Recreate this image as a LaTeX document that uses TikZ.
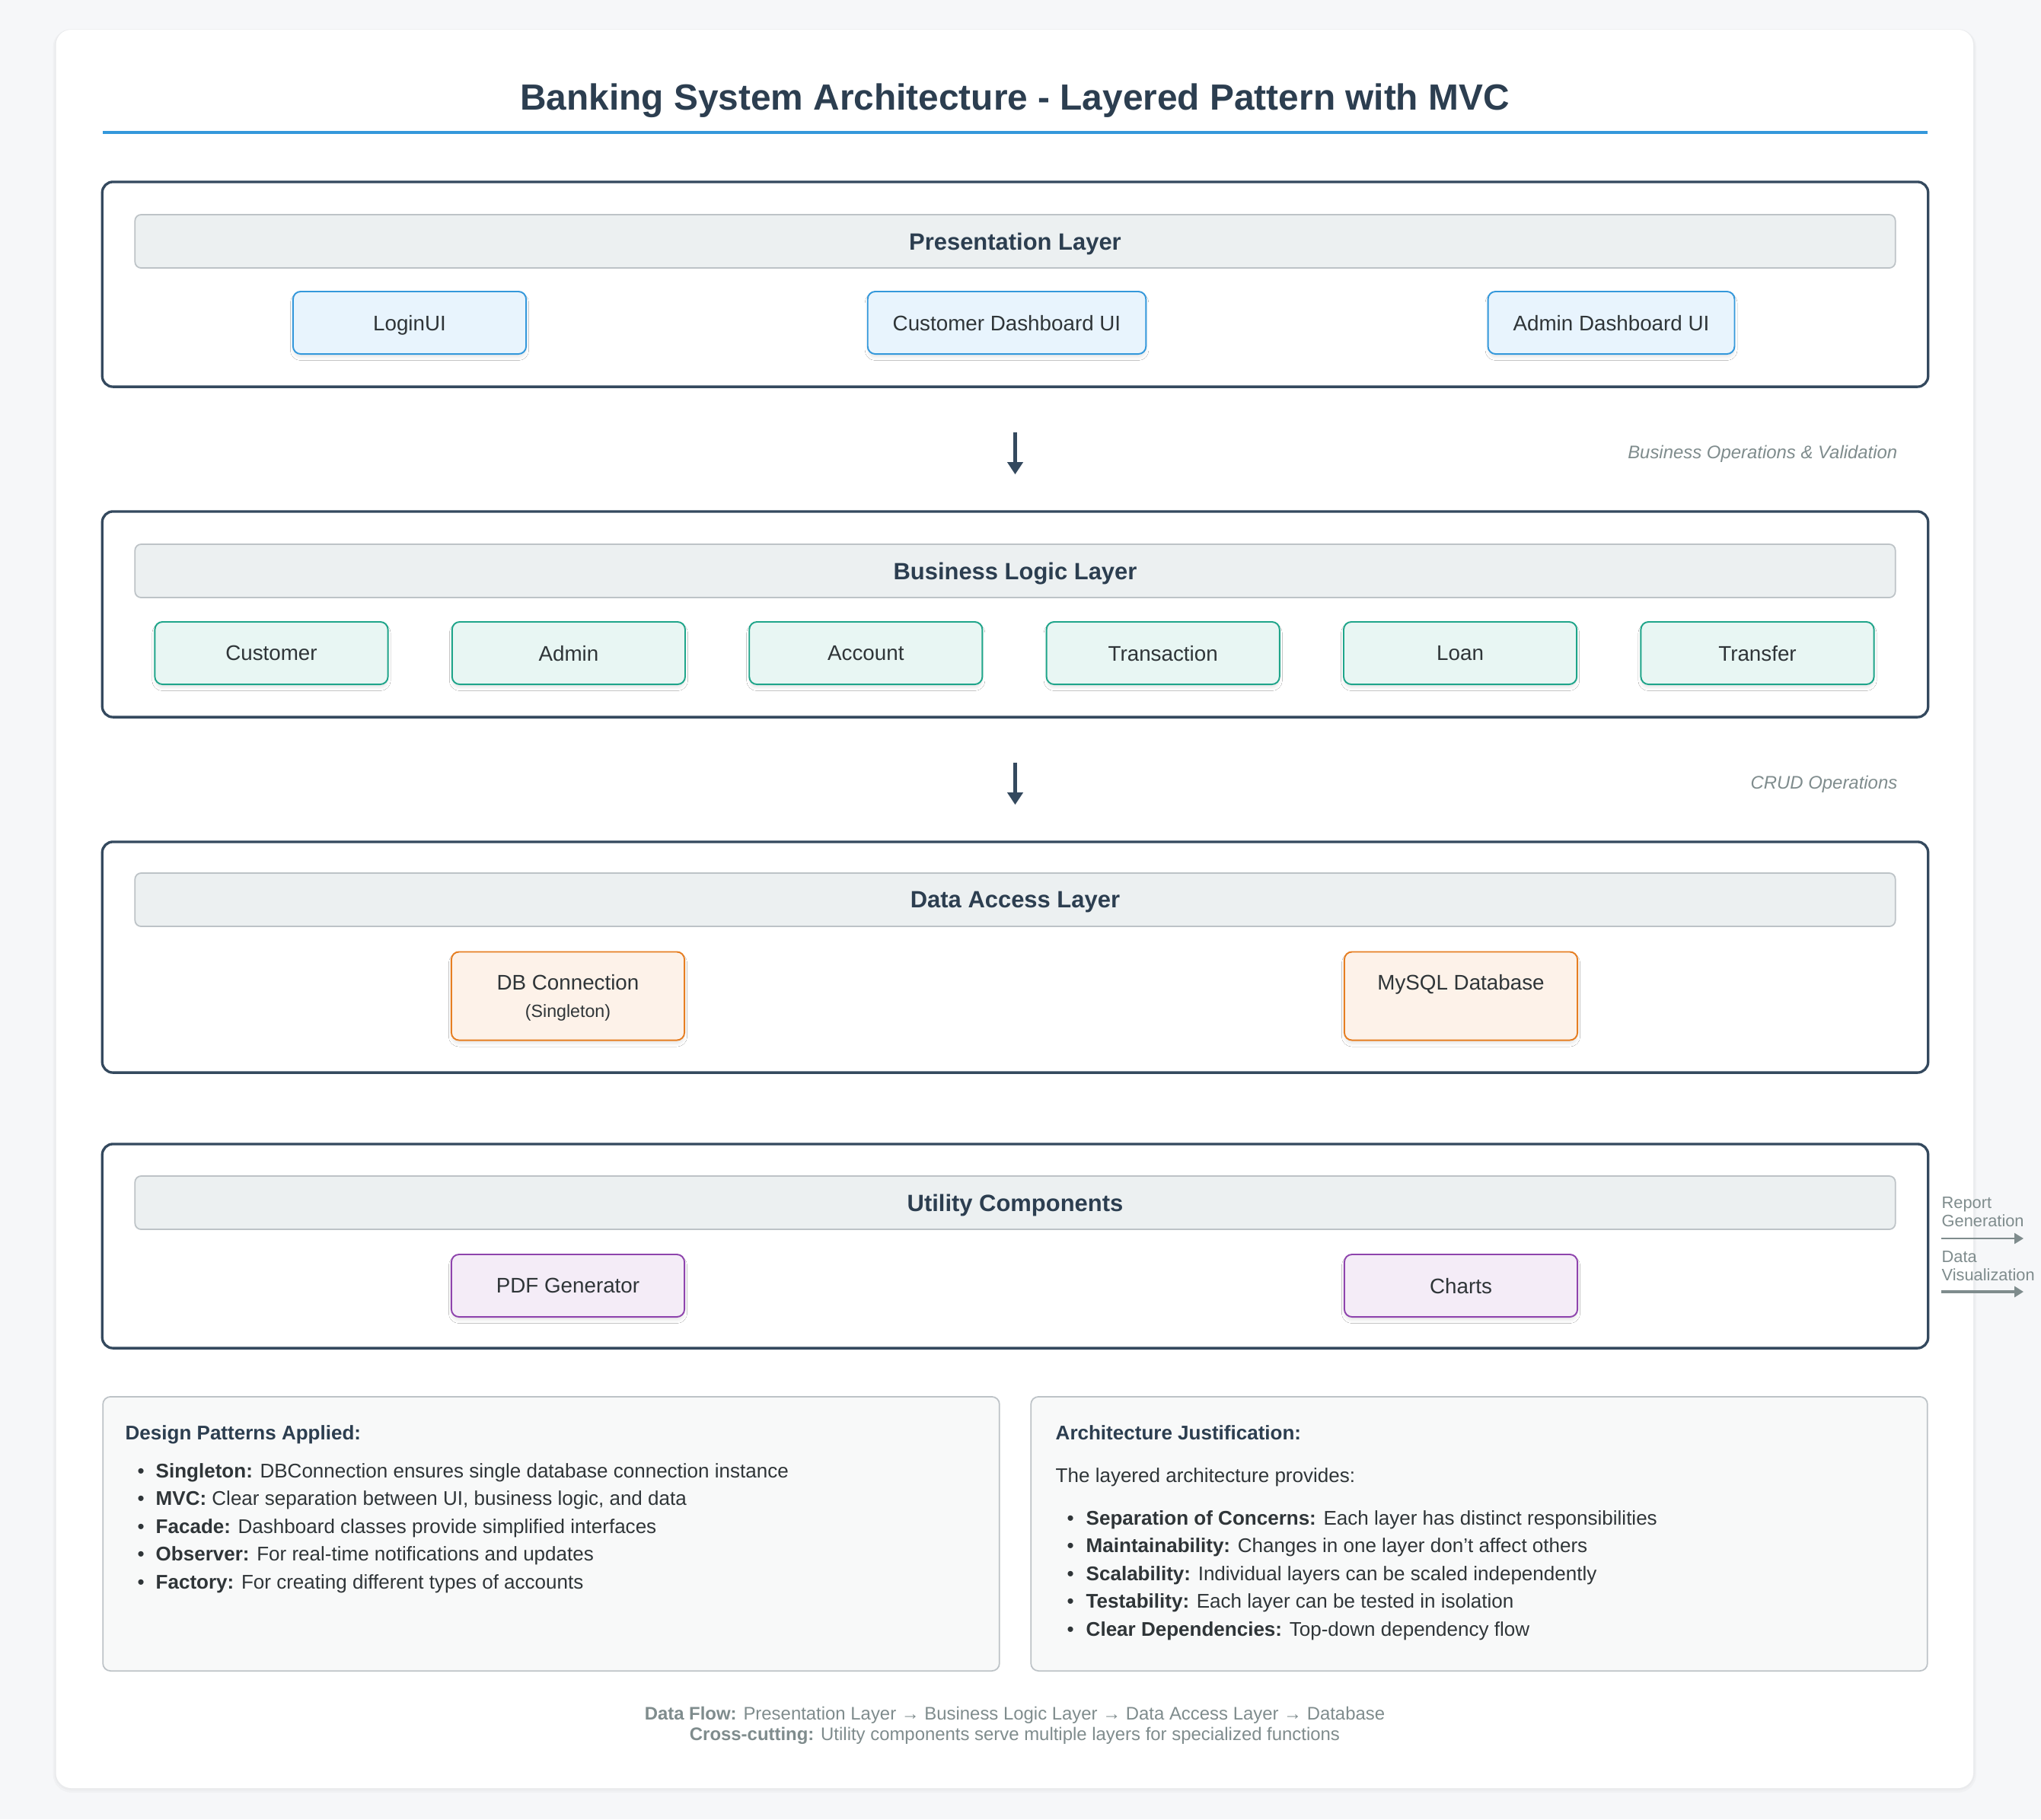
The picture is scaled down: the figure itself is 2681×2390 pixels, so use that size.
\documentclass[tikz,border=0pt]{standalone}
\usepackage{fontspec}
\setmainfont{Liberation Sans}
\usepackage{xcolor}
\usetikzlibrary{arrows.meta,shadows.blur}

\definecolor{inkdark}{HTML}{2C3E50}
\definecolor{layerline}{HTML}{34495E}
\definecolor{accentblue}{HTML}{3498DB}
\definecolor{headfill}{HTML}{ECF0F1}
\definecolor{headline}{HTML}{BDC3C7}
\definecolor{notegray}{HTML}{7F8C8D}
\definecolor{bodytext}{HTML}{2F3538}
\definecolor{pagebg}{RGB}{246,247,249}
\definecolor{notefill}{HTML}{F8F9F9}
\definecolor{presfill}{HTML}{E8F4FD}
\definecolor{presline}{HTML}{3498DB}
\definecolor{bizfill}{HTML}{E8F6F3}
\definecolor{bizline}{HTML}{1FA58A}
\definecolor{datafill}{HTML}{FDF2E9}
\definecolor{dataline}{HTML}{E67E22}
\definecolor{utilfill}{HTML}{F4ECF7}
\definecolor{utilline}{HTML}{8E44AD}

\begin{document}
\begin{tikzpicture}[x=0.01cm, y=-0.01cm,
    layer/.style={draw=layerline, line width=0.95pt, rounded corners=0.14cm, fill=white, minimum width=23.97cm},
    layerhead/.style={draw=headline, line width=0.5pt, fill=headfill, rounded corners=0.08cm, minimum width=23.11cm, minimum height=0.70cm, text depth=0pt, text=inkdark, font=\bfseries\fontsize{8.8}{10}\selectfont},
    comp/.style={line width=0.55pt, rounded corners=0.1cm, minimum width=3.06cm, minimum height=0.82cm, inner xsep=0.33cm, align=center, text depth=0pt, text=bodytext, font=\fontsize{7.9}{9.5}\selectfont, blur shadow={shadow xshift=0pt, shadow yshift=-1.4pt, shadow blur radius=1pt, shadow blur steps=4, shadow opacity=8}},
    prescomp/.style={comp, draw=presline, fill=presfill},
    bizcomp/.style={comp, draw=bizline, fill=bizfill},
    datacomp/.style={comp, draw=dataline, fill=datafill, minimum height=1.16cm},
    utilcomp/.style={comp, draw=utilline, fill=utilfill},
    flow/.style={draw=layerline, line width=1.45pt, -{Triangle[length=4.6pt,width=5.7pt]}, shorten <=0.58cm, shorten >=0.47cm},
    flownote/.style={anchor=east, inner sep=0pt, text depth=0pt, text=notegray, font=\itshape\fontsize{6.8}{8}\selectfont},
    sidearrow/.style={draw=notegray, -{Triangle[length=3.4pt,width=4pt]}},
    sidenote/.style={anchor=north west, inner sep=0pt, align=left, text=notegray, font=\fontsize{6.2}{6.63}\selectfont},
    note/.style={draw=headline, line width=0.5pt, fill=notefill, rounded corners=0.1cm, minimum width=11.77cm, minimum height=3.60cm},
    notehead/.style={anchor=west, inner sep=0pt, text depth=0pt, text=inkdark, font=\bfseries\fontsize{7.4}{9}\selectfont},
    noteitem/.style={anchor=west, inner sep=0pt, text depth=0pt, text=bodytext, font=\fontsize{7.4}{9}\selectfont}
]
\useasboundingbox (0,0) rectangle (2681,2390);
\fill[pagebg] (0,0) rectangle (2681,2390);
% Card
\fill[black, opacity=0.025, rounded corners=0.24cm] (69.5,38) rectangle (2596,2355);
\fill[black, opacity=0.025, rounded corners=0.22cm] (71.5,38.5) rectangle (2594,2352);
\fill[white, rounded corners=0.2cm] (73.5,39) rectangle (2592,2349);

% Title
\node[text depth=0pt, text=inkdark, font=\bfseries\fontsize{13.6}{16}\selectfont] (title) at (1333,127) {Banking System Architecture - Layered Pattern with MVC};
\draw[accentblue, line width=0.95pt] (135,174) -- (2532,174);

% Presentation layer
\node[layer, minimum height=2.69cm] (pres) at (1333.5,373.5) {};
\node[layerhead] (pres-head) at (1333.5,317) {Presentation Layer};
\node[prescomp] (login) at (538,424) {LoginUI};
\node[prescomp] (custdash) at (1322.5,424) {Customer Dashboard UI};
\node[prescomp] (admindash) at (2116.5,424) {Admin Dashboard UI};

% Business logic layer
\node[layer, minimum height=2.70cm] (biz) at (1333.5,807) {};
\node[layerhead] (biz-head) at (1333.5,750) {Business Logic Layer};
\foreach \name [count=\i from 0] in {Customer,Admin,Account,Transaction,Loan,Transfer}
{
\node[bizcomp] (biz-\i) at (356.5+390.4*\i,858) {\name};
}

% Data access layer
\node[layer, minimum height=3.03cm] (data) at (1333.5,1257.5) {};
\node[layerhead] (data-head) at (1333.5,1182) {Data Access Layer};
\node[datacomp] (dbconn) at (746,1308.5) {DB Connection\\[0.6pt]{\fontsize{6.6}{7.9}\selectfont(Singleton)}};
\node[datacomp] (mysql) at (1919,1308.5) {MySQL Database\\[0.6pt]{\fontsize{6.6}{7.9}\selectfont\phantom{(Singleton)}}};

% Utility components
\node[layer, minimum height=2.68cm] (util) at (1333.5,1637) {};
\node[layerhead] (util-head) at (1333.5,1580) {Utility Components};
\node[utilcomp] (pdfgen) at (746,1689) {PDF Generator};
\node[utilcomp] (charts) at (1919,1689) {Charts};

% Flow between layers
\draw[flow] (pres.south) -- (biz.north);
\node[flownote] (flow-1) at (2493,594) {Business Operations \& Validation};
\draw[flow] (biz.south) -- (data.north);
\node[flownote] (flow-2) at (2493,1028) {CRUD Operations};

% Cross-cutting outputs
\node[sidenote] (report) at (2550,1572) {Report\\Generation};
\coordinate (report-a) at (2550,1627);
\coordinate (report-b) at (2658,1627);
\draw[sidearrow, line width=0.6pt] (report-a) -- (report-b);
\node[sidenote] (visual) at (2550,1643) {Data\\Visualization};
\coordinate (visual-a) at (2550,1697);
\coordinate (visual-b) at (2658,1697);
\draw[sidearrow, line width=0.9pt] (visual-a) -- (visual-b);

% Design patterns
\node[note] (patterns) at (724,2015) {};
\node[notehead] (patterns-head) at (164,1882) {Design Patterns Applied:};
\foreach \key/\txt [count=\n from 0] in {Singleton/{DBConnection ensures single database connection instance},
    MVC/{Clear separation between UI, business logic, and data},
    Facade/{Dashboard classes provide simplified interfaces},
    Observer/{For real-time notifications and updates},
    Factory/{For creating different types of accounts}}
{
\node[noteitem] (pattern-\n) at (180,1932+36.5*\n) {\makebox[0.24cm][l]{\textbullet}\textbf{\key:} \txt};
}

% Architecture justification
\node[note] (justify) at (1943,2015) {};
\node[notehead] (justify-head) at (1386,1882) {Architecture Justification:};
\node[noteitem] (justify-intro) at (1386,1938) {The layered architecture provides:};
\foreach \key/\txt [count=\n from 0] in {Separation of Concerns/{Each layer has distinct responsibilities},
    Maintainability/{Changes in one layer don't affect others},
    Scalability/{Individual layers can be scaled independently},
    Testability/{Each layer can be tested in isolation},
    Clear Dependencies/{Top-down dependency flow}}
{
\node[noteitem] (reason-\n) at (1401,1994+36.5*\n) {\makebox[0.25cm][l]{\textbullet}\textbf{\key:} \txt};
}

% Footer
\node[align=center, text=notegray, font=\fontsize{6.8}{7.7}\selectfont] (footer) at (1333,2267) {\textbf{Data Flow:} Presentation Layer → Business Logic Layer → Data Access Layer → Database\\\textbf{Cross-cutting:} Utility components serve multiple layers for specialized functions};
\end{tikzpicture}
\end{document}
